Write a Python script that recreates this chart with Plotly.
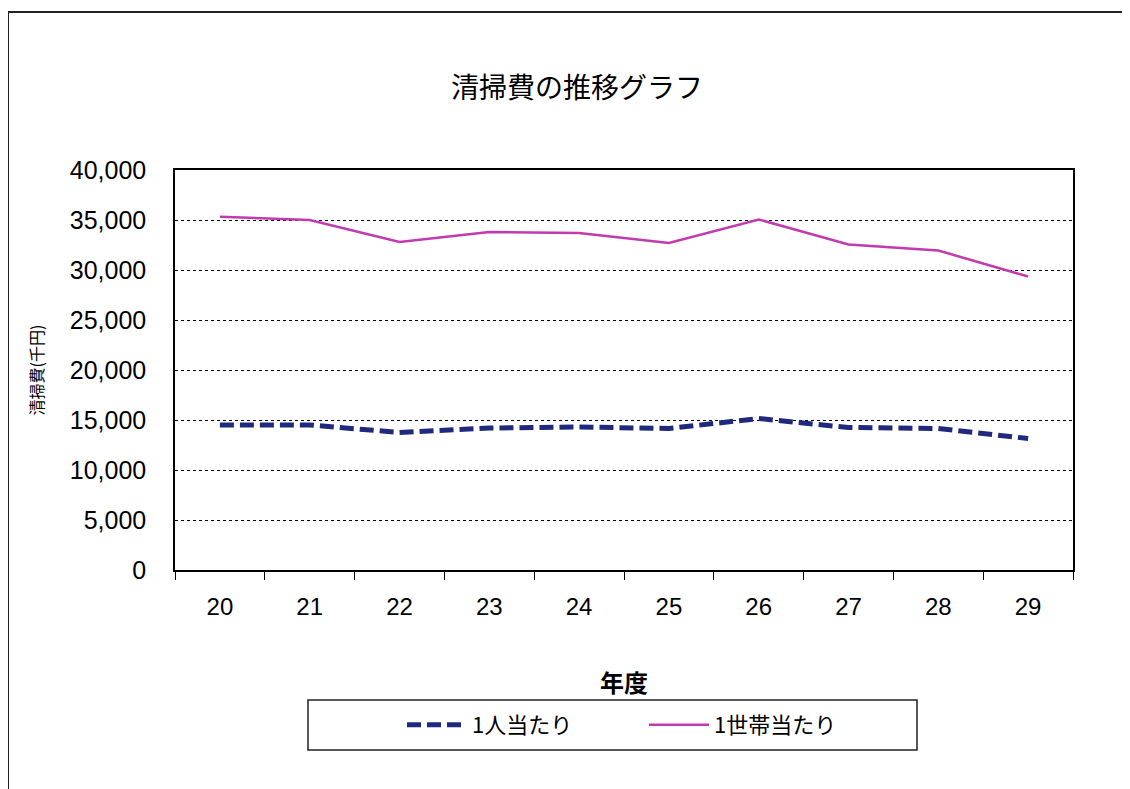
import plotly.graph_objects as go

years = ["20", "21", "22", "23", "24", "25", "26", "27", "28", "29"]
per_person = [14500, 14500, 13750, 14200, 14300, 14150, 15150, 14250, 14150, 13150]
per_household = [35330, 35000, 32800, 33800, 33700, 32700, 35050, 32550, 31950, 29350]
series_names = ["1人当たり", "1世帯当たり"]

W, H = 1130, 789
OFF = 8  # page offset of the figure
L, R, T, B = 175 - OFF, 1073 - OFF, 170 - OFF, 570 - OFF
pw, ph = R - L, B - T

def px(x):
    return (x - OFF - L) / pw

def py(y):
    return (B - (y - OFF)) / ph

JP = "Noto Sans CJK JP"
NUM = "Liberation Sans, Arial"

fig = go.Figure()
fig.add_trace(go.Scatter(
    x=years, y=per_person, mode="lines", name=series_names[0],
    line=dict(color="#1F2A7E", width=5, dash="14px,6px"),
))
fig.add_trace(go.Scatter(
    x=years, y=per_household, mode="lines", name=series_names[1],
    line=dict(color="#C23BAE", width=2.5),
))

fig.update_layout(
    width=W, height=H,
    margin=dict(l=L, r=W - R, t=T, b=H - B),
    paper_bgcolor="white", plot_bgcolor="white",
    title=dict(text="清掃費の推移グラフ", x=(577 - OFF) / W, xanchor="center",
               y=1 - (88 - OFF) / H, yanchor="middle", yref="container",
               font=dict(family=JP, size=28, color="black")),
    showlegend=True,
    legend=dict(orientation="h", x=px(402), xanchor="left", y=py(725), yanchor="middle",
                font=dict(family=JP, size=22, color="black"),
                entrywidth=167, itemwidth=60, bgcolor="rgba(0,0,0,0)"),
    shapes=[
        dict(type="rect", xref="paper", yref="paper",
             x0=px(8), x1=px(1150), y0=py(810), y1=py(12),
             line=dict(color="#222", width=2), fillcolor="rgba(0,0,0,0)", layer="below"),
        dict(type="rect", xref="paper", yref="paper",
             x0=px(308), x1=px(917), y0=py(750), y1=py(700),
             line=dict(color="#222", width=1.5), fillcolor="rgba(0,0,0,0)"),
    ],
)

fig.update_xaxes(
    type="category", range=[-0.5, 9.5],
    showline=True, linecolor="black", linewidth=1.5, mirror=True,
    ticks="outside", tickson="boundaries", ticklen=8, tickcolor="black",
    showgrid=False, ticklabelstandoff=14,
    tickfont=dict(family=NUM, size=24, color="black"),
    title=dict(text="<b>年度</b>", font=dict(family=JP, size=24, color="black"), standoff=57),
)
fig.update_yaxes(
    range=[0, 40000], dtick=5000, tickformat=",",
    showline=True, linecolor="black", linewidth=1.5, mirror=True,
    ticks="", showgrid=True, gridcolor="black", griddash="dot", gridwidth=1,
    zeroline=False, ticklabelstandoff=22,
    tickfont=dict(family=NUM, size=25, color="black"),
    title=dict(text="清掃費(千円)", font=dict(family=JP, size=16, color="black"), standoff=22),
)

fig.write_html("out.html")
